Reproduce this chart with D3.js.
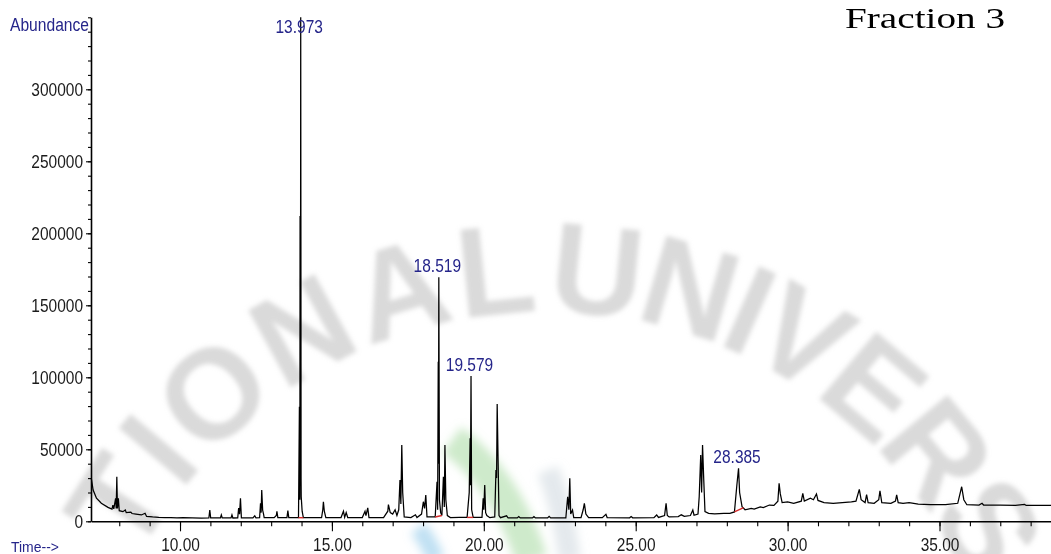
<!DOCTYPE html>
<html>
<head>
<meta charset="utf-8">
<script src="https://cdn.jsdelivr.net/npm/d3@7"></script>
<style>
  html, body { margin: 0; padding: 0; background: #fff; }
  svg { display: block; }
</style>
</head>
<body>
<svg id="chart" width="1051" height="554"></svg>
<script>
// Total ion chromatogram, Fraction 3: retention time (min) vs abundance
const retentionTime = [
  7.08, 7.14, 7.25, 7.41, 7.63, 7.76, 7.79, 7.82, 7.88, 7.90, 7.92, 7.94, 7.97, 8.00,
  8.12, 8.20, 8.23, 8.38, 8.42, 8.55, 8.73, 8.85, 8.90, 9.10, 9.30, 9.50, 9.70, 9.90,
  10.10, 10.40, 10.70, 10.95, 10.98, 11.01, 11.33, 11.36, 11.39, 11.68, 11.71, 11.74,
  11.90, 11.93, 11.96, 11.99, 12.02, 12.40, 12.46, 12.50, 12.62, 12.65, 12.67, 12.69,
  12.72, 12.75, 12.77, 13.10, 13.17, 13.19, 13.22, 13.52, 13.55, 13.58,
  13.90, 13.93, 13.945, 13.952, 13.957, 13.962, 13.966, 13.973, 13.979, 13.985, 13.99, 14.02, 14.06,
  14.30, 14.66, 14.70, 14.72, 14.75, 14.80, 15.30, 15.38, 15.42, 15.47, 15.52,
  16.00, 16.09, 16.12, 16.18, 16.22, 16.70, 16.84, 16.86, 16.92, 17.00, 17.08, 17.14,
  17.20, 17.24, 17.27, 17.30, 17.33, 17.38, 17.60, 17.75, 17.80, 17.95, 18.01, 18.05,
  18.09, 18.13, 18.40, 18.46, 18.48, 18.50, 18.508, 18.519, 18.54, 18.58, 18.62, 18.67,
  18.70, 18.72, 18.75, 18.80, 18.90, 19.20, 19.45, 19.52, 19.55, 19.56, 19.579, 19.60,
  19.65, 19.94, 19.98, 20.00, 20.03, 20.06, 20.10, 20.20, 20.36, 20.40, 20.42, 20.44,
  20.47, 20.50, 20.55, 20.75, 20.80, 21.10, 21.15, 21.20, 21.60, 21.65, 21.70, 22.10,
  22.15, 22.20, 22.70, 22.76, 22.80, 22.83, 22.86, 22.92, 22.96, 23.20, 23.27, 23.31,
  23.36, 23.45, 23.90, 24.02, 24.06, 24.80, 24.85, 24.90, 25.60, 25.69, 25.75, 25.95,
  26.00, 26.04, 26.10, 26.40, 26.50, 26.60, 26.80, 26.88, 26.92, 27.05, 27.09, 27.14,
  27.17, 27.20, 27.24, 27.28, 27.40, 27.60, 27.90, 28.10, 28.25, 28.33, 28.385, 28.42,
  28.50, 28.60, 28.80, 28.90, 29.10, 29.20, 29.40, 29.55, 29.68, 29.72, 29.76, 29.82,
  30.00, 30.20, 30.45, 30.50, 30.55, 30.75, 30.85, 30.95, 31.00, 31.20, 31.50, 31.80,
  32.10, 32.25, 32.36, 32.42, 32.55, 32.60, 32.65, 32.85, 33.00, 33.04, 33.10, 33.40,
  33.55, 33.59, 33.64, 33.80, 34.00, 34.30, 34.70, 35.20, 35.60, 35.73, 35.80, 35.90,
  36.30, 36.40, 36.45, 37.00, 37.50, 37.80, 37.85, 38.20, 38.67
];
const abundance = [
  29900, 21700, 16000, 12500, 9700, 8500, 11300, 8700, 16000, 9000, 31000, 9000, 16000, 7400,
  6700, 7800, 6000, 6400, 5400, 5000, 4400, 5600, 3400, 3000, 2700, 2500, 2600, 2400,
  2500, 2300, 2200, 2300, 7800, 2300, 2300, 4400, 2300, 2300, 4400, 2300,
  2400, 9200, 5000, 16000, 2400, 2400, 3800, 2400, 2500, 12500, 6000, 21800,
  7800, 5000, 2600, 2500, 4000, 7000, 2600, 2600, 7500, 2600,
  2500, 79600, 15000, 212000, 82000, 212000, 80000, 350000, 212000, 30000, 17000, 7000, 2500,
  2500, 2600, 8000, 13600, 7000, 2600, 2600, 7000, 2800, 6000, 2600,
  2600, 7000, 4000, 9300, 2600, 2600, 7000, 11600, 6000, 5000, 8000, 4000,
  8000, 28700, 12000, 53000, 20000, 3000, 2600, 4500, 2600, 5000, 13600, 9000,
  18300, 3000, 3000, 27500, 8000, 110800, 40000, 169400, 15000, 6000, 4000, 31000,
  10000, 53000, 15000, 4000, 2600, 2700, 2700, 20000, 57600, 25000, 100900, 8000,
  2700, 2700, 16000, 8000, 25200, 6000, 4000, 2500, 3000, 35600, 30000, 81500,
  42600, 4000, 2500, 3800, 2300, 2300, 3300, 2300, 2300, 3200, 2300, 2300,
  3400, 2300, 2300, 17000, 8000, 29900, 5000, 7800, 2500, 2500, 8000, 12500,
  5000, 2600, 2500, 4800, 2600, 2400, 3300, 2400, 2500, 4400, 2700, 4000,
  12500, 4000, 3000, 3300, 4500, 3500, 4000, 7800, 4200, 5000, 17000, 46000,
  20000, 53000, 28700, 6700, 5500, 5200, 5500, 5500, 6500, 25200, 36800, 20000,
  10200, 8000, 9000, 8500, 10000, 9500, 11300, 11000, 14000, 26400, 19000, 13000,
  13500, 12500, 14000, 19400, 14000, 16000, 15000, 19000, 14500, 13000, 12500, 13000,
  13500, 14000, 22200, 15000, 13000, 18500, 13000, 12500, 15000, 21200, 13000, 12500,
  14000, 18300, 13000, 12500, 13000, 12000, 11500, 11500, 12500, 24000, 15000, 11500,
  11300, 12500, 11300, 11200, 11000, 11800, 11000, 11000, 11000
];

// Retention times printed above integrated peaks
const labeledPeaks = [13.973, 18.519, 19.579, 28.385];
// Integration baselines under those peaks: [time, abundance] at start and end
const integrationStart = [[13.90, 2500], [18.40, 3000], [19.45, 2700], [28.25, 6500]];
const integrationEnd = [[14.06, 2500], [18.62, 4000], [19.65, 2700], [28.55, 9500]];

const yTickValues = [0, 50000, 100000, 150000, 200000, 250000, 300000];
const xTickValues = [10, 15, 20, 25, 30, 35];

const chartTitle = "Fraction 3";
const yAxisTitle = "Abundance";
const xAxisTitle = "Time-->";
const watermarkWords = ["NATIONAL", "UNIVERSITY"];

const svg = d3.select("#chart");
const W = 1051, H = 554;
const AXIS_FONT = "'Liberation Sans', Arial, sans-serif";
const NAVY = "#25258a";

const x = d3.scaleLinear().domain([7.07, 38.67]).range([91, 1051]);
const y = d3.scaleLinear().domain([0, 350000]).range([521.3, 17.3]);

// narrow, tall system-style lettering
function condense(sel, ratio) {
  sel.each(function () {
    const w = this.getComputedTextLength();
    this.setAttribute("textLength", (w * ratio).toFixed(1));
    this.setAttribute("lengthAdjust", "spacingAndGlyphs");
  });
}

// ---- faint seal lettering behind the plot, one letter at a time along an arc
const defs = svg.append("defs");
defs.append("filter").attr("id", "soft").attr("x", "-30%").attr("y", "-30%")
  .attr("width", "160%").attr("height", "160%")
  .append("feGaussianBlur").attr("stdDeviation", 2.4);
defs.append("filter").attr("id", "softer").attr("x", "-50%").attr("y", "-50%")
  .attr("width", "200%").attr("height", "200%")
  .append("feGaussianBlur").attr("stdDeviation", 5);

const seal = { cx: 547, cy: 775, r: 463, size: 128, start: 30, spacing: [4, -6], gap: 4 };
const sealFont = "'Liberation Sans', Arial, sans-serif";
const probe = svg.append("text").attr("font-family", sealFont).attr("font-weight", "bold")
  .attr("font-size", seal.size).attr("visibility", "hidden");
let along = seal.start;
const sealLetters = [];
watermarkWords.forEach((word, wi) => {
  if (wi > 0) along += seal.gap;
  for (const ch of word) {
    probe.text(ch);
    const w = probe.node().getComputedTextLength();
    const theta = Math.PI + (along + w / 2) / seal.r;
    const px = seal.cx + seal.r * Math.cos(theta);
    const py = seal.cy + seal.r * Math.sin(theta);
    if (py < H + 20 && px > -40 && px < W + 40) {
      sealLetters.push({ ch, px, py, rot: theta * 180 / Math.PI + 90 });
    }
    along += w + seal.spacing[wi];
  }
});
probe.remove();

svg.append("g").attr("filter", "url(#soft)")
  .selectAll("text").data(sealLetters).join("text")
  .attr("transform", d => `translate(${d.px.toFixed(1)},${d.py.toFixed(1)}) rotate(${d.rot.toFixed(1)})`)
  .attr("text-anchor", "middle")
  .attr("font-family", sealFont).attr("font-weight", "bold").attr("font-size", seal.size)
  .attr("fill", "#bcbcbc").attr("fill-opacity", 0.55)
  .text(d => d.ch);

const emblem = svg.append("g").attr("filter", "url(#softer)");
emblem.append("path").attr("d", "M452,440 Q505,478 532,560")
  .attr("fill", "none").attr("stroke", "#a6d9a0").attr("stroke-width", 32).attr("stroke-opacity", 0.55);
emblem.append("path").attr("d", "M418,528 Q428,540 436,560")
  .attr("fill", "none").attr("stroke", "#8cc7ea").attr("stroke-width", 18).attr("stroke-opacity", 0.55);
emblem.append("path").attr("d", "M548,470 Q562,505 570,560")
  .attr("fill", "none").attr("stroke", "#c9d3dc").attr("stroke-width", 22).attr("stroke-opacity", 0.5);

// ---- axes
svg.append("g").attr("transform", "translate(91,0)")
  .call(d3.axisLeft(y).tickValues(yTickValues).tickSize(5).tickSizeOuter(0).tickPadding(3)
    .tickFormat(d3.format("d")));
const yMinor = svg.append("g").attr("transform", "translate(91,0)")
  .call(d3.axisLeft(y).tickValues(d3.range(0, 350001, 10000)).tickSize(3).tickSizeOuter(0).tickFormat(""));
yMinor.select(".domain").remove();

svg.append("g").attr("transform", `translate(0,${y(0)})`)
  .call(d3.axisBottom(x).tickValues(xTickValues).tickSize(10).tickSizeOuter(0).tickPadding(6.7)
    .tickFormat(d3.format(".2f")));
const xMinor = svg.append("g").attr("transform", `translate(0,${y(0)})`)
  .call(d3.axisBottom(x).tickValues(d3.range(8, 39, 1)).tickSize(5).tickSizeOuter(0).tickFormat(""));
xMinor.select(".domain").remove();

svg.selectAll(".domain").attr("stroke", "#000").attr("stroke-width", 1.6);
svg.selectAll(".tick line").attr("stroke", "#000").attr("stroke-width", 1.1);
const tickText = svg.selectAll(".tick text")
  .attr("font-family", AXIS_FONT).attr("font-size", 18).attr("fill", "#1b1b1b");
condense(tickText, 0.86);

// ---- chromatogram trace
const points = retentionTime.map((t, i) => [t, abundance[i]]);
svg.append("path")
  .datum(points)
  .attr("fill", "none")
  .attr("stroke", "#000")
  .attr("stroke-width", 1.25)
  .attr("stroke-linejoin", "miter")
  .attr("d", d3.line().x(d => x(d[0])).y(d => y(d[1])));

// integration baselines
svg.append("g").selectAll("line")
  .data(integrationStart.map((s, i) => [s, integrationEnd[i]]))
  .join("line")
  .attr("x1", d => x(d[0][0])).attr("y1", d => y(d[0][1]))
  .attr("x2", d => x(d[1][0])).attr("y2", d => y(d[1][1]))
  .attr("stroke", "#d42a2a").attr("stroke-width", 1.4);

// peak retention-time labels
const peakLabels = svg.append("g").selectAll("text")
  .data(labeledPeaks)
  .join("text")
  .attr("x", t => x(t) - 1.5)
  .attr("y", t => {
    const i = d3.minIndex(retentionTime, rt => Math.abs(rt - t));
    return Math.max(y(abundance[i]) - 5, 33);
  })
  .attr("text-anchor", "middle")
  .attr("font-family", AXIS_FONT)
  .attr("font-size", 18)
  .attr("fill", NAVY)
  .text(t => d3.format(".3f")(t));
condense(peakLabels, 0.86);

// axis titles
svg.append("text").attr("x", 10).attr("y", 31)
  .attr("font-family", AXIS_FONT).attr("font-size", 18).attr("fill", NAVY)
  .attr("textLength", 79).attr("lengthAdjust", "spacingAndGlyphs")
  .text(yAxisTitle);
svg.append("text").attr("x", 11).attr("y", 552)
  .attr("font-family", AXIS_FONT).attr("font-size", 15).attr("fill", NAVY)
  .attr("textLength", 48).attr("lengthAdjust", "spacingAndGlyphs")
  .text(xAxisTitle);

// chart title
svg.append("text").attr("x", 845).attr("y", 28)
  .attr("font-family", "'Liberation Serif', 'Times New Roman', serif")
  .attr("font-size", 30).attr("fill", "#000")
  .attr("textLength", 160).attr("lengthAdjust", "spacingAndGlyphs")
  .text(chartTitle);
</script>
</body>
</html>
